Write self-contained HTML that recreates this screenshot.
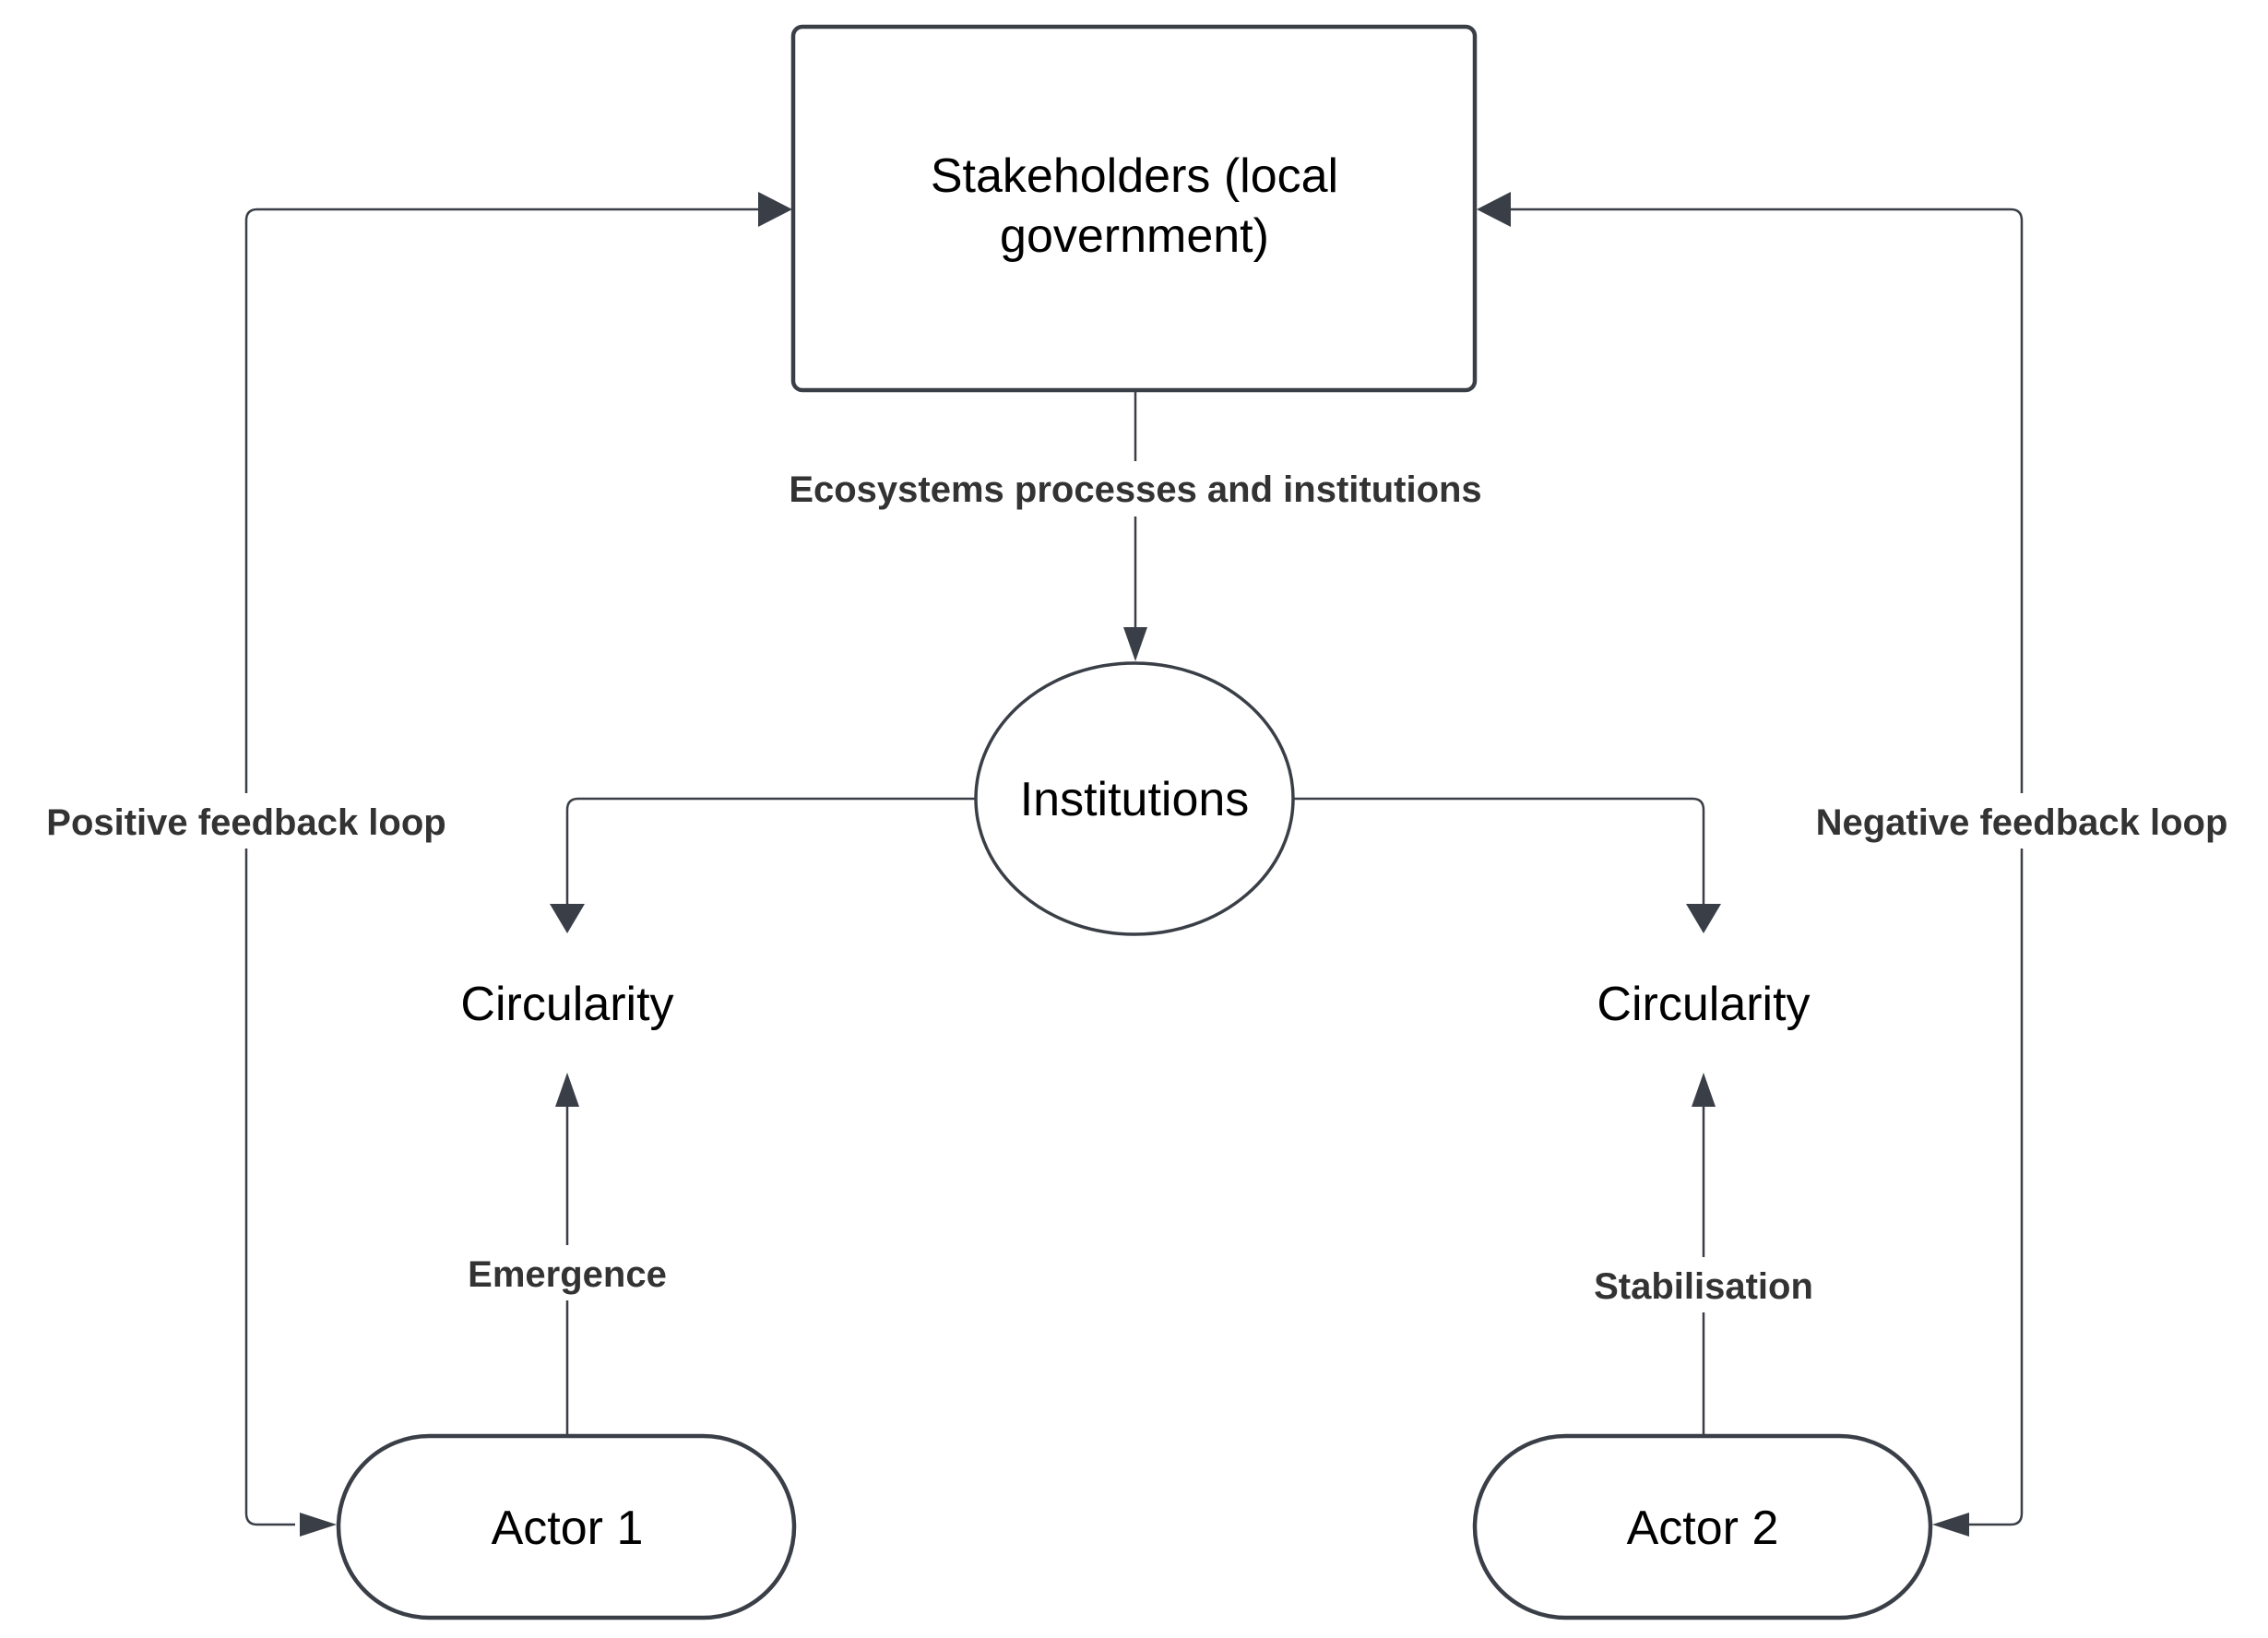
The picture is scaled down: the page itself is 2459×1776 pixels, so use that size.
<!DOCTYPE html>
<html><head><meta charset="utf-8"><style>
html,body{margin:0;padding:0;background:#fff;}
svg{display:block;}
</style></head><body>
<svg width="2459" height="1776" viewBox="0 0 2459 1776" xmlns="http://www.w3.org/2000/svg">
<defs>
<style>
.ln{fill:none;stroke:#3a3f47;stroke-width:2.5;}
.sh{fill:#fff;stroke:#3a3f47;stroke-width:4.5;}
.ah{fill:#3a3f47;}
.t{font-family:"Liberation Sans",sans-serif;font-size:52px;fill:#000;text-anchor:middle;}
.b{font-family:"Liberation Sans",sans-serif;font-size:40px;font-weight:bold;fill:#333;text-anchor:middle;}
</style>
</defs>
<!-- left loop -->
<path class="ln" d="M320,1653 H279 Q267,1653 267,1641 V239 Q267,227 279,227 H825"/>
<polygon class="ah" points="325,1640 365,1653 325,1666"/>
<polygon class="ah" points="822,208 859,227 822,246"/>
<!-- right loop -->
<path class="ln" d="M2135,1653 H2180 Q2192,1653 2192,1641 V239 Q2192,227 2180,227 H1635"/>
<polygon class="ah" points="2135,1640 2095,1653 2135,1666"/>
<polygon class="ah" points="1638,208 1601,227 1638,246"/>
<!-- box -->
<rect class="sh" x="860" y="29" width="739" height="394" rx="10"/>
<text class="t" x="1230" y="208">Stakeholders (local</text>
<text class="t" x="1230" y="273">government)</text>
<!-- down arrow -->
<line class="ln" x1="1231" y1="423" x2="1231" y2="690"/>
<polygon class="ah" points="1218,680 1231,717 1244,680"/>
<rect x="800" y="500" width="860" height="60" fill="#fff"/>
<text class="b" x="1231" y="544">Ecosystems processes and institutions</text>
<!-- branches -->
<path class="ln" d="M1057,866 H627 Q615,866 615,878 V985"/>
<polygon class="ah" points="596,980 615,1012 634,980"/>
<path class="ln" d="M1402,866 H1835 Q1847,866 1847,878 V985"/>
<polygon class="ah" points="1828,980 1847,1012 1866,980"/>
<!-- ellipse -->
<ellipse class="sh" cx="1230" cy="866" rx="172" ry="147" style="stroke-width:3.5"/>
<text class="t" x="1230" y="884">Institutions</text>
<!-- circularity -->
<text class="t" x="615" y="1106">Circularity</text>
<text class="t" x="1847" y="1106">Circularity</text>
<!-- up arrows -->
<line class="ln" x1="615" y1="1557" x2="615" y2="1190"/>
<polygon class="ah" points="602,1200 615,1163 628,1200"/>
<line class="ln" x1="1847" y1="1557" x2="1847" y2="1190"/>
<polygon class="ah" points="1834,1200 1847,1163 1860,1200"/>
<rect x="470" y="1350" width="290" height="60" fill="#fff"/>
<text class="b" x="615" y="1395">Emergence</text>
<rect x="1700" y="1363" width="294" height="60" fill="#fff"/>
<text class="b" x="1847" y="1408">Stabilisation</text>
<!-- loop labels -->
<rect x="20" y="860" width="495" height="60" fill="#fff"/>
<text class="b" x="267" y="905">Positive feedback loop</text>
<rect x="1940" y="860" width="505" height="60" fill="#fff"/>
<text class="b" x="2192" y="905">Negative feedback loop</text>
<!-- actors -->
<rect class="sh" x="367" y="1557" width="494" height="197" rx="98.5"/>
<text class="t" x="615" y="1674">Actor 1</text>
<rect class="sh" x="1599" y="1557" width="494" height="197" rx="98.5"/>
<text class="t" x="1846" y="1674">Actor 2</text>
</svg>
</body></html>
